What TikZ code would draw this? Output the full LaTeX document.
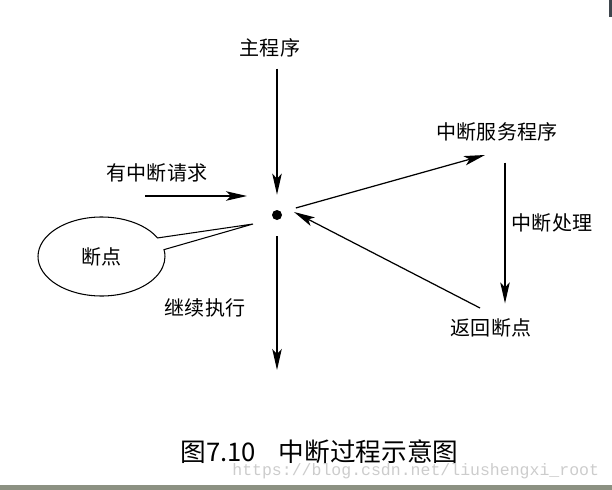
\documentclass[tikz,border=0pt]{standalone}
\usepackage{fontspec}
\setmainfont{Noto Sans CJK SC}
\newfontfamily\wmfont{Liberation Mono}
\usetikzlibrary{arrows.meta,shapes.callouts}
\definecolor{bandgray}{RGB}{140,145,130}

\begin{document}
\begin{tikzpicture}[x=0.02cm,y=-0.02cm,every node/.style={font=\fontsize{11.4}{13}\selectfont,inner sep=0pt},
  arr/.style={line width=0.7pt,-{Stealth[length=0.42cm,width=0.19cm,inset=0.1cm]}}]
\useasboundingbox (0,0) rectangle (612,490);
% break point and main flow
\node[circle,fill,minimum size=0.2cm] (bp) at (277,215) {};
\node (main) at (270,48) {主程序};
\coordinate (cont) at (277,370);
\draw[arr,shorten <=0.22cm,shorten >=0.3cm] (main.south -| bp) -- (bp);
\draw[arr,shorten <=0.32cm] (bp) -- (cont);
\node at (205,308) (goon) {继续执行};
% request
\node (req) at (157,173) {有中断请求};
\coordinate (reqa) at (145,196);
\coordinate (reqb) at (247,196);
\draw[arr] (reqa) -- (reqb);
% callout
\coordinate (tip) at (253,224);
\node[ellipse callout,draw,line width=0.6pt,minimum width=2.54cm,minimum height=1.58cm,
  callout absolute pointer=(tip),callout pointer arc=18] (bpbox) at (101.5,256.5) {断点};
% service routine loop
\node (isr) at (497,132) {中断服务程序};
\node (ret) at (491,328) {返回断点};
\node (hdl) at (552,223) {中断处理};
\coordinate (isrin) at (485,155);
\coordinate (retout) at (480,308);
\coordinate (bpin) at (294,212);
\draw[arr,shorten <=0.3cm] (bp.34) -- (isrin);
\draw[arr,shorten <=0.42cm,shorten >=0.3cm] (isr.south -| 505,0) -- (ret.north -| 505,0);
\draw[arr] (retout) -- (bpin);
% caption
\node[anchor=west,font=\fontsize{14.6}{16}\selectfont] (cap) at (180,452) {图7.10\hspace{0.9em}中断过程示意图};
\node[anchor=west,font=\wmfont\fontsize{9.4}{11}\selectfont,text=gray!40] (wm) at (232,471) {https://blog.csdn.net/liushengxi\_root};
\fill[bandgray] (0,485) rectangle (612,490);
\fill[black!80!cyan] (609,0) rectangle (612,17);
\end{tikzpicture}
\end{document}
